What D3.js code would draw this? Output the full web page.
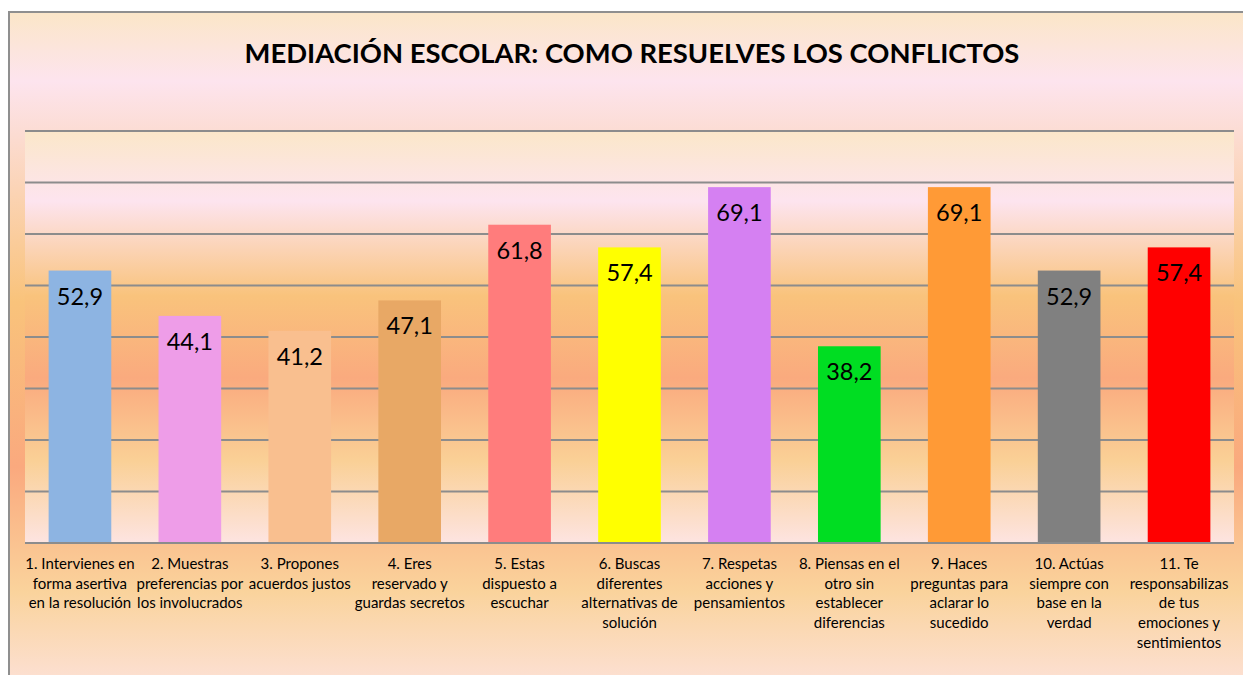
<!DOCTYPE html>
<html>
<head>
<meta charset="utf-8">
<script src="https://cdn.jsdelivr.net/npm/d3@7"></script>
<style>
  body { margin: 0; background: #fff; }
  svg { display: block; font-family: Lato, "Open Sans", sans-serif; }
</style>
</head>
<body>
<div id="vis"></div>
<script>
const title = 'MEDIACIÓN ESCOLAR: COMO RESUELVES LOS CONFLICTOS';

const categories = [
  ['1. Intervienes en', 'forma asertiva', 'en la resolución'],
  ['2. Muestras', 'preferencias por', 'los involucrados'],
  ['3. Propones', 'acuerdos justos'],
  ['4. Eres', 'reservado y', 'guardas secretos'],
  ['5. Estas', 'dispuesto a', 'escuchar'],
  ['6. Buscas', 'diferentes', 'alternativas de', 'solución'],
  ['7. Respetas', 'acciones y', 'pensamientos'],
  ['8. Piensas en el', 'otro sin', 'establecer', 'diferencias'],
  ['9. Haces', 'preguntas para', 'aclarar lo', 'sucedido'],
  ['10. Actúas', 'siempre con', 'base en la', 'verdad'],
  ['11. Te', 'responsabilizas', 'de tus', 'emociones y', 'sentimientos']
];

const values = [52.9, 44.1, 41.2, 47.1, 61.8, 57.4, 69.1, 38.2, 69.1, 52.9, 57.4];

const barColors = ['#8DB4E2', '#EE9DE8', '#F9BF8F', '#E8A865', '#FF7C7C', '#FFFF00',
                   '#D580F2', '#00DD22', '#FF9A36', '#808080', '#FF0000'];

const yTicks = [0, 10, 20, 30, 40, 50, 60, 70, 80];

const width = 1243;
const height = 675;
const plot = { left: 25, right: 1234, top: 131, bottom: 543 };

const svg = d3.select('#vis').append('svg')
  .attr('width', width)
  .attr('height', height);

// peach preset gradient, used for the chart area and the plot area
const defs = svg.append('defs');
function addGradient(id, st) {
  const g = defs.append('linearGradient')
    .attr('id', id)
    .attr('x1', 0).attr('y1', 0).attr('x2', 0).attr('y2', 1);
  g.selectAll('stop').data(st).enter().append('stop')
    .attr('offset', d => d[0])
    .attr('stop-color', d => d[1]);
}
addGradient('outerBg', [
  [0, '#FBE6C8'], [0.1, '#FDE4EE'], [0.42, '#F9C37B'],
  [0.66, '#FAA97E'], [0.84, '#FAD39C'], [1, '#FDE3E0']
]);
addGradient('plotBg', [
  [0, '#FBE7C9'], [0.17, '#FDE4EF'], [0.4, '#F9C37C'],
  [0.6, '#FAAA7E'], [0.8, '#FAD096'], [1, '#FDE4E1']
]);

svg.append('rect')
  .attr('x', 9).attr('y', 12)
  .attr('width', 1250).attr('height', 690)
  .attr('fill', 'url(#outerBg)')
  .attr('stroke', '#8F8F8F')
  .attr('stroke-width', 2);

svg.append('rect')
  .attr('x', plot.left).attr('y', plot.top)
  .attr('width', plot.right - plot.left)
  .attr('height', plot.bottom - plot.top)
  .attr('fill', 'url(#plotBg)');

svg.append('text')
  .attr('x', 632)
  .attr('y', 63)
  .attr('text-anchor', 'middle')
  .attr('font-size', 27.4)
  .attr('font-weight', 'bold')
  .attr('fill', '#000')
  .text(title);

const x = d3.scaleBand()
  .domain(d3.range(categories.length))
  .range([plot.left, plot.right])
  .paddingInner(0.43)
  .paddingOuter(0.215);

const y = d3.scaleLinear()
  .domain([0, 80])
  .range([plot.bottom, plot.top]);

// gridlines
svg.append('g')
  .selectAll('line')
  .data(yTicks)
  .enter().append('line')
  .attr('x1', plot.left)
  .attr('x2', plot.right)
  .attr('y1', d => y(d))
  .attr('y2', d => y(d))
  .attr('stroke', '#8C8C8C')
  .attr('stroke-width', 2);

const bars = svg.append('g')
  .selectAll('g')
  .data(values)
  .enter().append('g');

bars.append('rect')
  .attr('x', (d, i) => x(i))
  .attr('y', d => y(d))
  .attr('width', x.bandwidth())
  .attr('height', d => y(0) - y(d) - 1)
  .attr('fill', (d, i) => barColors[i]);

bars.append('text')
  .attr('x', (d, i) => x(i) + x.bandwidth() / 2)
  .attr('y', d => y(d) + 34)
  .attr('text-anchor', 'middle')
  .attr('font-size', 23.5)
  .attr('fill', '#000')
  .text(d => d3.format('.1f')(d).replace('.', ','));

// category labels
const labels = svg.append('g')
  .selectAll('text')
  .data(categories)
  .enter().append('text')
  .attr('text-anchor', 'middle')
  .attr('font-size', 15)
  .attr('fill', '#000');

labels.selectAll('tspan')
  .data((d, i) => d.map(line => ({ line, i })))
  .enter().append('tspan')
  .attr('x', d => x(d.i) + x.bandwidth() / 2)
  .attr('y', (d, j) => 569 + j * 19.7)
  .text(d => d.line);
</script>
</body>
</html>
